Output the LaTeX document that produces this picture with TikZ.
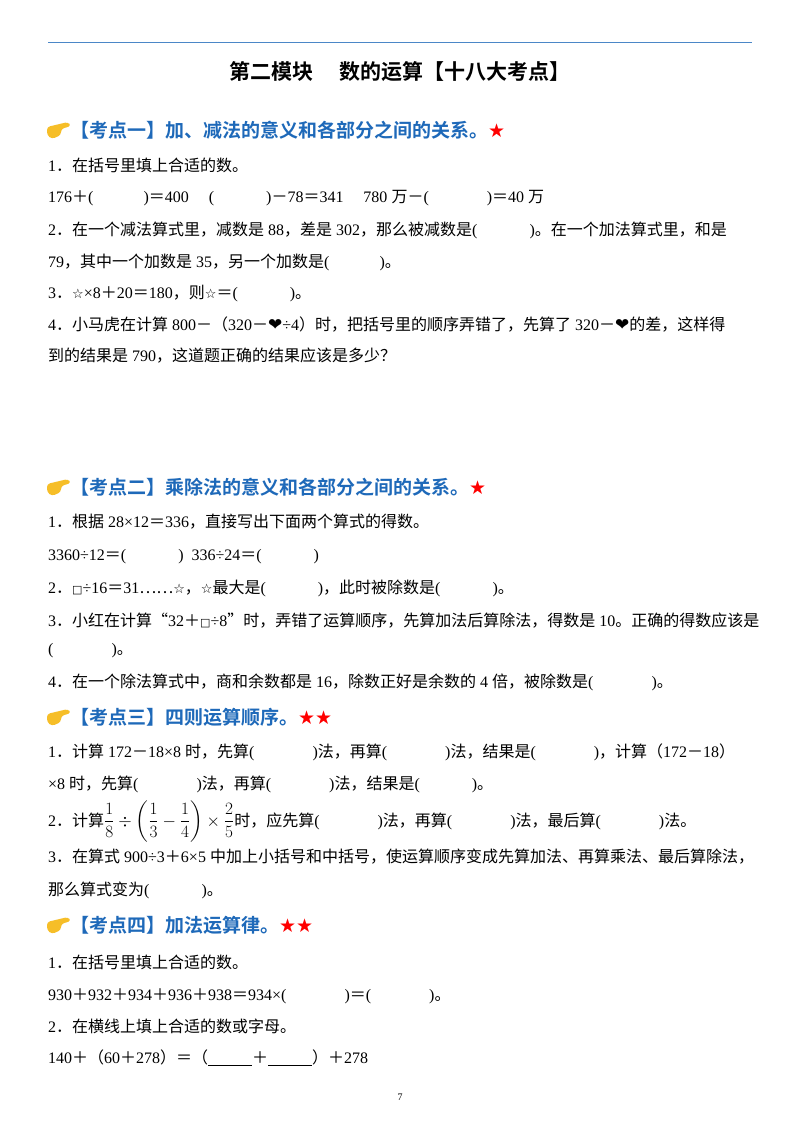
\documentclass[tikz,border=0pt]{standalone}
\usepackage{fontspec}
\usepackage{amsmath}
\setmainfont{Liberation Serif}
\newfontfamily\cjk{Noto Sans CJK SC}
\newfontfamily\cjkb{Noto Sans CJK SC Bold}
\newfontfamily\dv{DejaVu Sans}
\newfontfamily\latinf{Liberation Serif}
\newcount\cc
\newcommand\setcls[2]{\cc=#1\relax\loop\XeTeXcharclass\cc=1\relax\advance\cc by 1\relax\ifnum\cc<#2\repeat}
\setcls{"3000}{"3040}
\setcls{"4E00}{"A000}
\setcls{"FF00}{"FFF0}
\XeTeXcharclass"201C=1
\XeTeXcharclass"201D=1
\XeTeXcharclass"2026=1
\XeTeXinterchartokenstate=1
\XeTeXinterchartoks 0 1 {\cjk}
\XeTeXinterchartoks 4095 1 {\cjk}
\XeTeXinterchartoks 1 0 {\latinf}
\XeTeXinterchartoks 1 4095 {\latinf\relax}
\definecolor{hblue}{RGB}{30,105,185}
\definecolor{hand}{RGB}{246,190,40}
\newcommand\bl[1]{\hspace*{#1pt}}
\newcommand\wstar{{\dv\fontsize{13}{13}\selectfont ☆}}
\newcommand\heart{{\dv\fontsize{17}{17}\selectfont ❤}}
\begin{document}
\begin{tikzpicture}[x=1pt,y=-1pt,
  body/.style={anchor=base west,inner sep=0pt,font=\fontsize{16}{18}\selectfont},
  head/.style={anchor=base west,inner sep=0pt,text=hblue}]
\useasboundingbox (0,0) rectangle (800,1132);
\fill[white] (0,0) rectangle (800,1132);
\draw[color=hblue!80,line width=0.8pt] (48,42) coordinate (l1) -- (752,42) coordinate (l2);
\node[anchor=base,inner sep=0pt] (title) at (400,79) {\fontsize{21}{24}\selectfont\XeTeXinterchartokenstate=0\cjkb 第二模块\hspace{1.2em}数的运算【十八大考点】};
\newcommand\hand[2]{%
  \fill[hand,rounded corners=3pt] (#1,#2-3) -- (#1+21,#2-8) -- (#1+24,#2-4) -- (#1+14,#2-1) -- (#1+14,#2+5) -- (#1+5,#2+9) -- (#1,#2+5) -- cycle;}
\newcommand\heading[3]{%
  \hand{47}{#1}
  \node[head] (#2) at (70,#1+7) {\fontsize{19}{21}\selectfont\XeTeXinterchartokenstate=0\cjkb #3};}
\heading{130}{h1}{【考点一】加、减法的意义和各部分之间的关系。{\color{red}\dv ★}}
\node[body] (a1) at (48,171) {1．在括号里填上合适的数。};
\node[body] (a2) at (48,202) {176＋(\bl{50})＝400\bl{20}(\bl{52})－78＝341\bl{20}780 万－(\bl{58})＝40 万};
\node[body] (a3) at (48,235) {2．在一个减法算式里，减数是 88，差是 302，那么被减数是(\bl{52})。在一个加法算式里，和是};
\node[body] (a4) at (48,267) {79，其中一个加数是 35，另一个加数是(\bl{50})。};
\node[body] (a5) at (48,298) {3．\wstar×8＋20＝180，则\wstar＝(\bl{52})。};
\node[body] (a6) at (48,330) {4．小马虎在计算 800－（320－\heart÷4）时，把括号里的顺序弄错了，先算了 320－\heart 的差，这样得};
\node[body] (a7) at (48,361) {到的结果是 790，这道题正确的结果应该是多少？};
\heading{487}{h2}{【考点二】乘除法的意义和各部分之间的关系。{\color{red}\dv ★}}
\node[body] (b1) at (48,527) {1．根据 28×12＝336，直接写出下面两个算式的得数。};
\node[body] (b2) at (48,560) {3360÷12＝(\bl{52})\bl{8}336÷24＝(\bl{52})};
\node[body] (b3) at (48,593) {2．{\dv\fontsize{11}{11}\selectfont □}÷16＝31……\wstar，\wstar 最大是(\bl{52})，此时被除数是(\bl{52})。};
\node[body] (b4) at (48,626) {3．小红在计算“32＋{\dv\fontsize{11}{11}\selectfont □}÷8”时，弄错了运算顺序，先算加法后算除法，得数是 10。正确的得数应该是};
\node[body] (b5) at (48,654) {(\bl{58})。};
\node[body] (b6) at (48,687) {4．在一个除法算式中，商和余数都是 16，除数正好是余数的 4 倍，被除数是(\bl{58})。};
\heading{717}{h3}{【考点三】四则运算顺序。{\color{red}\dv ★★}}
\node[body] (c1) at (48,757) {1．计算 172－18×8 时，先算(\bl{58})法，再算(\bl{58})法，结果是(\bl{58})，计算（172－18）};
\node[body] (c2) at (48,789) {×8 时，先算(\bl{58})法，再算(\bl{58})法，结果是(\bl{52})。};
\node[body] (c3) at (48,826) {2．计算$\dfrac{1}{8}\div\left(\dfrac{1}{3}-\dfrac{1}{4}\right)\times\dfrac{2}{5}$时，应先算(\bl{58})法，再算(\bl{58})法，最后算(\bl{58})法。};
\node[body] (c4) at (48,862) {3．在算式 900÷3＋6×5 中加上小括号和中括号，使运算顺序变成先算加法、再算乘法、最后算除法，};
\node[body] (c5) at (48,895) {那么算式变为(\bl{52})。};
\heading{925}{h4}{【考点四】加法运算律。{\color{red}\dv ★★}}
\node[body] (d1) at (48,968) {1．在括号里填上合适的数。};
\node[body] (d2) at (48,1000) {930＋932＋934＋936＋938＝934×(\bl{58})＝(\bl{58})。};
\node[body] (d3) at (48,1032) {2．在横线上填上合适的数或字母。};
\node[body] (d4) at (48,1063) {140＋（60＋278）＝（\underline{\bl{44}}＋\underline{\bl{44}}）＋278};
\node[anchor=base,inner sep=0pt,font=\fontsize{10}{10}\selectfont] (pg) at (400,1100) {7};
\end{tikzpicture}
\end{document}
